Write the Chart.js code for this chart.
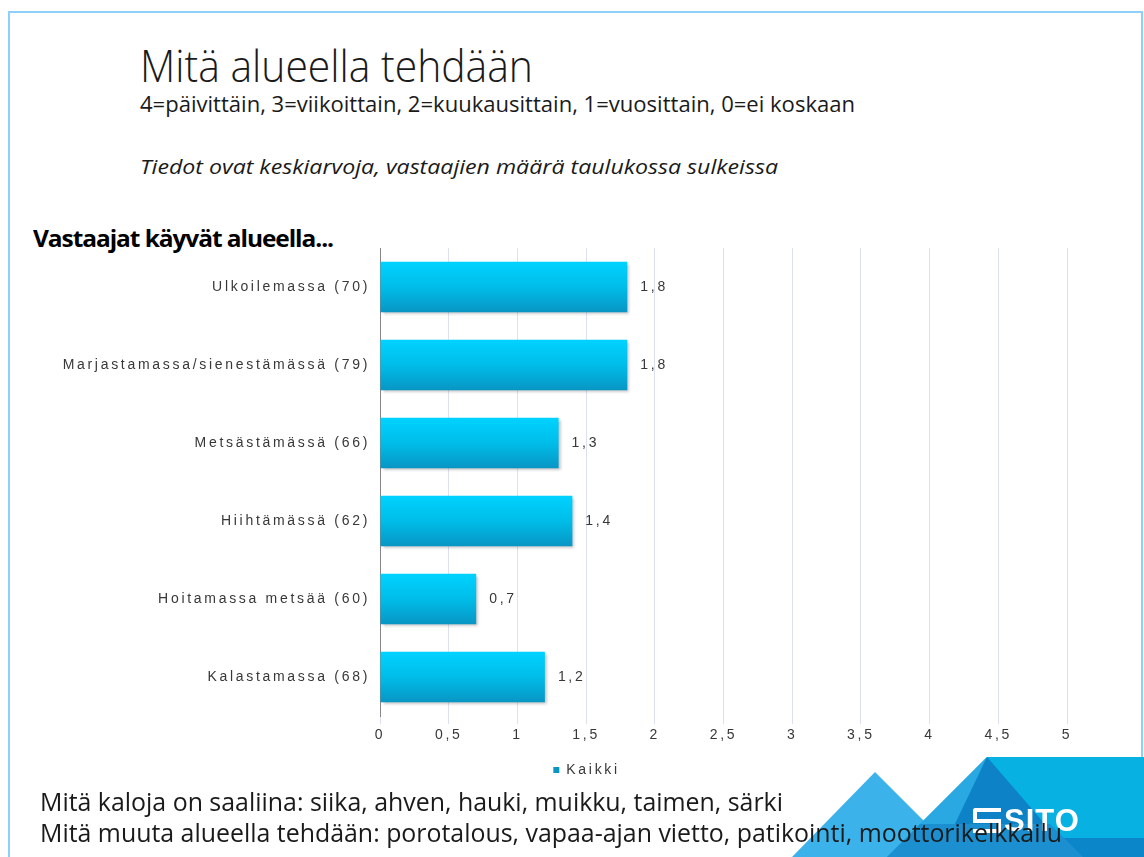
<!DOCTYPE html>
<html lang="fi">
<head>
<meta charset="utf-8">
<title>Mitä alueella tehdään</title>
<script src="https://cdn.jsdelivr.net/npm/chart.js@4"></script>
<style>
    html, body { margin: 0; padding: 0; background: #fff; }
    #page { position: relative; width: 1144px; height: 857px; overflow: hidden; }
    #frame { position: absolute; left: 8px; top: 11px; width: 1131px; height: 900px;
             border: 2px solid #8fd0f8; }
    .txt { position: absolute; white-space: nowrap; color: #1a1a1a; transform-origin: 0 50%;
           font-family: "Open Sans", sans-serif; line-height: 1; }
    #title { left: 140px; top: 42px; font-size: 45px; font-weight: 300; }
    #sub { left: 140px; top: 94px; font-size: 21px; }
    #note { left: 140px; top: 157px; font-size: 20px; font-style: italic; }
    #heading { left: 33px; top: 227px; font-size: 23px; font-weight: bold; letter-spacing: -1px; color: #000; }
    #fish { left: 40px; top: 789px; font-size: 25px; z-index: 3; }
    #other { left: 40px; top: 820px; font-size: 25px; z-index: 3; }
    .tri { position: absolute; left: 0; top: 0; width: 1144px; height: 857px; }
    #logo { position: absolute; left: 973px; top: 805px; color: #fff; font: bold 31px "Liberation Sans", sans-serif;
            z-index: 2; letter-spacing: 1px; line-height: 1; }
    #logo .icon { position: relative; display: inline-block; width: 28px; height: 25px; vertical-align: -2px; margin-right: 3px; }
    #logo .icon i { position: absolute; box-sizing: border-box; border: 0 solid #fff; }
    #logo .icon i.a { left: 0; top: 0; width: 28px; height: 15px; border-width: 4px 0 4px 4px; border-top-left-radius: 3px; }
    #logo .icon i.b { left: 0; top: 11px; width: 28px; height: 14px; border-width: 0 4px 4px 0; border-bottom-right-radius: 3px; }
    #chart { position: absolute; left: 0; top: 0; z-index: 1; }
</style>
</head>
<body>
<div id="page">
    <div id="frame"></div>
    <!-- corner decoration -->
    <div class="tri" style="background:#3cb2ea; clip-path: polygon(792px 857px, 875px 772px, 960px 857px);"></div>
    <div class="tri" style="background:#07b2e2; clip-path: polygon(887px 857px, 987px 757px, 1144px 757px, 1144px 857px);"></div>
    <div class="tri" style="background:#2aa8e2; clip-path: polygon(920px 824px, 987px 757px, 955px 824px);"></div>
    <div class="tri" style="background:#0d82c7; clip-path: polygon(987px 757px, 1045px 824px, 955px 824px);"></div>
    <div class="tri" style="background:#1c8fd0; clip-path: polygon(887px 857px, 920px 824px, 1050px 824px, 1064px 838px, 1144px 838px, 1144px 857px);"></div>
    <div class="tri" style="background:#0b86c9; clip-path: polygon(1064px 838px, 1144px 838px, 1144px 857px, 1083px 857px);"></div>
    <div id="logo"><span class="icon"><i class="a"></i><i class="b"></i></span>SITO</div>

    <div id="title" class="txt" data-w="393">Mitä alueella tehdään</div>
    <div id="sub" class="txt" data-w="715">4=päivittäin, 3=viikoittain, 2=kuukausittain, 1=vuosittain, 0=ei koskaan</div>
    <div id="note" class="txt" data-w="638">Tiedot ovat keskiarvoja, vastaajien määrä taulukossa sulkeissa</div>
    <div id="heading" class="txt" data-w="300">Vastaajat käyvät alueella...</div>
    <div id="fish" class="txt" data-w="743">Mitä kaloja on saaliina: siika, ahven, hauki, muikku, taimen, särki</div>
    <div id="other" class="txt" data-w="1022">Mitä muuta alueella tehdään: porotalous, vapaa-ajan vietto, patikointi, moottorikelkkailu</div>

    <canvas id="chart" width="1144" height="857"></canvas>
</div>

<script>
// Activities and mean frequency (0-4 scale), respondents in brackets
const categories = [
    'Ulkoilemassa (70)',
    'Marjastamassa/sienestämässä (79)',
    'Metsästämässä (66)',
    'Hiihtämässä (62)',
    'Hoitamassa metsää (60)',
    'Kalastamassa (68)'
];
const kaikki = [1.8, 1.8, 1.3, 1.4, 0.7, 1.2];
const xTicks = [0, 0.5, 1, 1.5, 2, 2.5, 3, 3.5, 4, 4.5, 5];
const seriesName = 'Kaikki';

// squeeze/stretch the slide texts to their line widths
document.querySelectorAll('.txt').forEach(function(el) {
    const target = parseFloat(el.dataset.w);
    const w = el.getBoundingClientRect().width;
    if (w > 0) el.style.transform = 'scaleX(' + (target / w) + ')';
});

const fi = v => String(v).replace('.', ',');
const track = '2.7px';
const labelFont = { family: '"Liberation Sans", Arial, sans-serif', size: 14 };

// cyan bar with a vertical gradient per bar
function barFill(c) {
    const chart = c.chart;
    const y = chart.scales.y;
    const plain = '#00b4e6';
    if (!y || c.dataIndex === undefined) return plain;
    const mid = y.getPixelForValue(c.dataIndex);
    if (!isFinite(mid)) return plain;
    const g = chart.ctx.createLinearGradient(0, mid - 25, 0, mid + 25);
    g.addColorStop(0, '#00d2ff');
    g.addColorStop(0.5, '#00bde9');
    g.addColorStop(1, '#0896c4');
    return g;
}

const spacing = {
    id: 'spacing',
    // legend sits a bit right of the canvas centre
    afterLayout(chart) { if (chart.legend) chart.legend.left = 90; },
    beforeDraw(chart) { chart.ctx.letterSpacing = track; }
};

const barShadow = {
    id: 'barShadow',
    beforeDatasetsDraw(chart) {
        const ctx = chart.ctx;
        ctx.save();
        ctx.shadowColor = 'rgba(0, 0, 0, 0.28)';
        ctx.shadowBlur = 3;
        ctx.shadowOffsetX = 2;
        ctx.shadowOffsetY = 2;
    },
    afterDatasetsDraw(chart) {
        const ctx = chart.ctx;
        ctx.restore();
        // value labels next to the bar ends
        ctx.save();
        ctx.letterSpacing = track;
        ctx.font = '14px "Liberation Sans", Arial, sans-serif';
        ctx.fillStyle = '#383838';
        ctx.textBaseline = 'middle';
        chart.getDatasetMeta(0).data.forEach(function(bar, i) {
            ctx.fillText(fi(kaikki[i]), bar.x + 13, bar.y);
        });
        ctx.restore();
    }
};

new Chart(document.getElementById('chart'), {
    type: 'bar',
    data: {
        labels: categories,
        datasets: [{
            label: seriesName,
            data: kaikki,
            backgroundColor: barFill,
            borderWidth: 0,
            categoryPercentage: 1,
            barPercentage: 0.645
        }]
    },
    plugins: [spacing, barShadow],
    options: {
        indexAxis: 'y',
        responsive: false,
        animation: false,
        layout: { padding: { left: 0, right: 77, top: 248, bottom: 70 } },
        scales: {
            x: {
                min: 0,
                max: 5,
                afterBuildTicks: s => { s.ticks = xTicks.map(v => ({ value: v })); },
                afterFit: s => { s.height = 37; },
                border: { display: false },
                grid: { color: '#dde1ee', tickLength: 8, lineWidth: 1 },
                ticks: { callback: v => fi(v), color: '#383838', font: labelFont, padding: 3 }
            },
            y: {
                afterFit: s => { s.width = 380; },
                border: { display: true, color: '#858585', width: 1 },
                grid: { display: false },
                ticks: { color: '#383838', font: labelFont, padding: 2 }
            }
        },
        plugins: {
            legend: {
                position: 'bottom',
                labels: { boxWidth: 6, boxHeight: 6, color: '#383838', font: labelFont, padding: 10 }
            },
            tooltip: { enabled: false }
        }
    }
});
</script>
</body>
</html>
